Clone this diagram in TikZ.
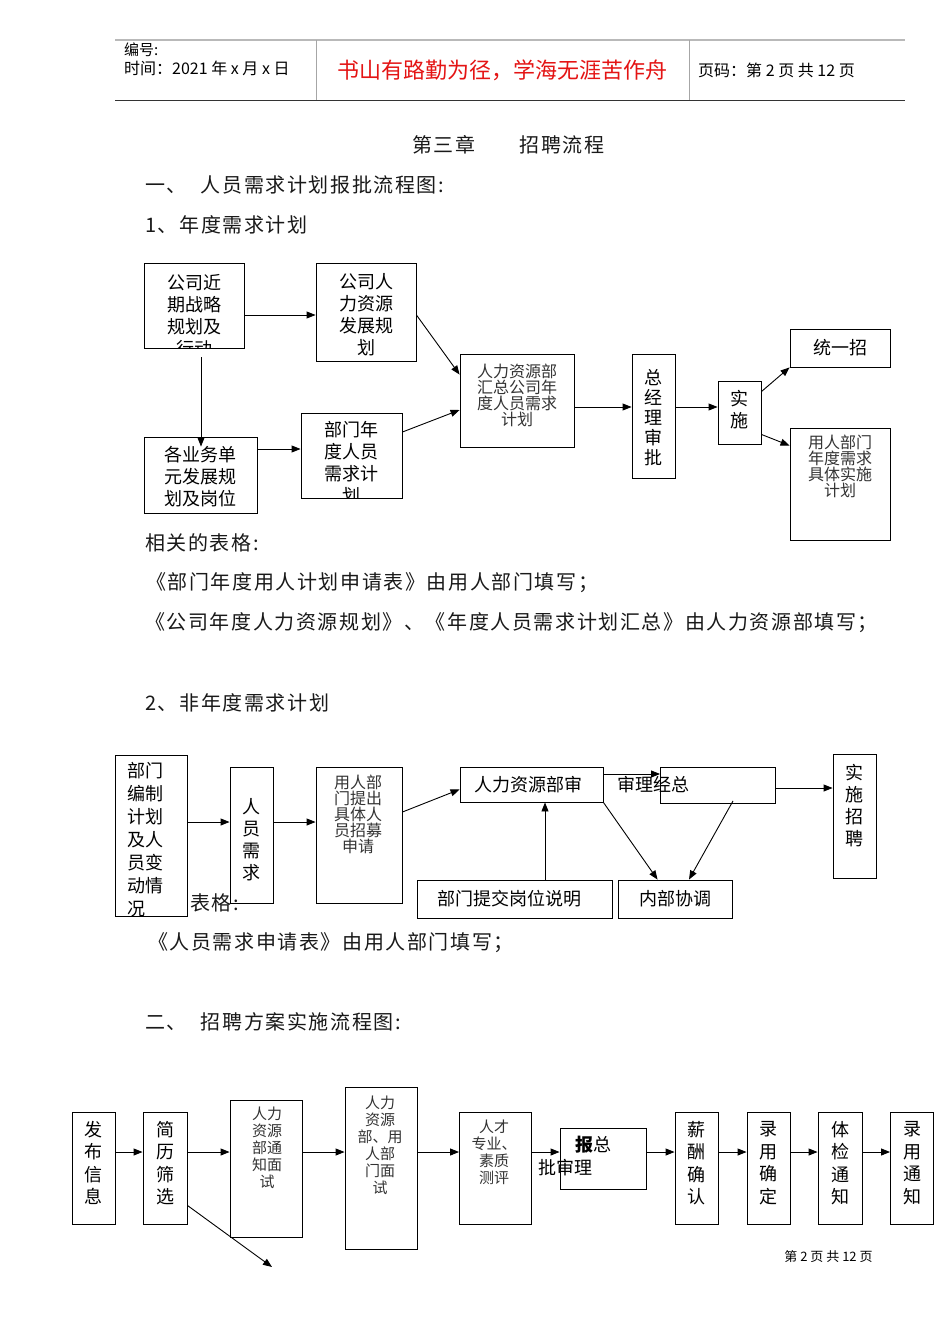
\documentclass[tikz,border=0pt]{standalone}
\usepackage{fontspec}
\setmainfont{Noto Sans CJK SC}
\newfontfamily\cjkbody[LetterSpace=8]{Noto Sans CJK SC}
\usetikzlibrary{arrows.meta,calc}
\definecolor{hdred}{RGB}{228,20,20}
\begin{document}
\begin{tikzpicture}[x=1pt,y=-1pt,
  box/.style={draw, line width=0.9pt, inner sep=0pt},
  btxt/.style={inner sep=0pt, align=center, font=\fontsize{18}{22}\selectfont},
  vtxt/.style={inner sep=0pt, align=center, font=\fontsize{18}{22.5}\selectfont},
  ltxt/.style={inner sep=0pt, align=center, text=black!80, font=\fontsize{16}{16}\selectfont},
  lstxt/.style={inner sep=0pt, align=center, text=black!80, font=\fontsize{15}{17}\selectfont},
  body/.style={inner sep=0pt, anchor=west, text=black!90, font=\cjkbody\fontsize{20}{22}\selectfont},
  arr/.style={line width=0.9pt, -{Triangle[length=9pt,width=7pt]}},
  ln/.style={line width=0.9pt}]
\useasboundingbox (0,0) rectangle (950,1344);
\fill[white] (0,0) rectangle (950,1344);

% ---------------- header
\draw[gray!55, line width=2pt] (115,40) -- (905,40);
\draw[black!80, line width=0.8pt] (115,100) -- (905,100);
\draw[gray!70, line width=1pt] (316,40) -- (316,100);
\draw[gray!70, line width=1pt] (689,40) -- (689,100);
\node[inner sep=0pt, anchor=west, font=\fontsize{15}{16}\selectfont] (hno) at (124,50) {编号:};
\node[inner sep=0pt, anchor=west, font=\fontsize{16}{16}\selectfont] (htime) at (124,68) {时间：2021 年 x 月 x 日};
\node[inner sep=0pt, text=hdred, font=\fontsize{22}{23}\selectfont] (hmotto) at (502.5,70) {书山有路勤为径，学海无涯苦作舟};
\node[inner sep=0pt, anchor=west, font=\fontsize{16}{16}\selectfont] (hpage) at (698,70) {页码：第 2 页 共 12 页};

% ---------------- body text
\node[body] (title) at (412,145) {第三章\hspace{44pt}招聘流程};
\node[body] (sec1) at (145,185) {一、\hspace{14pt}人员需求计划报批流程图:};
\node[body] (sub1) at (145,225) {1、年度需求计划};
\node[body] (rel) at (145,543) {相关的表格:};
\node[body] (f1) at (146,583) {《部门年度用人计划申请表》由用人部门填写；};
\node[body] (f2) at (145,623) {《公司年度人力资源规划》、《年度人员需求计划汇总》由人力资源部填写；};
\node[body] (sub2) at (145,703) {2、非年度需求计划};
\node[body] (f3) at (148,943) {《人员需求申请表》由用人部门填写；};
\node[body] (sec2) at (145,1022) {二、\hspace{14pt}招聘方案实施流程图:};

% ---------------- flow 1
\node[box, minimum width=100, minimum height=85] (A) at (194,305.5) {};
\node[box, minimum width=100, minimum height=98] (B) at (366,312) {};
\node[box, minimum width=113, minimum height=76] (C) at (200.5,475) {};
\node[box, minimum width=101, minimum height=85] (D) at (351.5,455.5) {};
\node[box, minimum width=114, minimum height=93] (E) at (517,400.5) {};
\node[box, minimum width=43, minimum height=124] (F) at (653.5,416) {};
\node[box, minimum width=43, minimum height=63] (G) at (739.5,412.5) {};
\node[box, minimum width=100, minimum height=38] (H) at (840,348) {};
\node[box, minimum width=100, minimum height=112] (I) at (840,484) {};

\begin{scope}
\clip (A.south west) rectangle (A.north east);
\node[btxt, anchor=north] (At) at (194,274) {公司近\\期战略\\规划及\\行动};
\end{scope}
\node[btxt, anchor=north] (Bt) at (366,273) {公司人\\力资源\\发展规\\划};
\node[btxt] (Ct) at (200.5,477) {各业务单\\元发展规\\划及岗位};
\begin{scope}
\clip (D.south west) rectangle (D.north east);
\node[btxt, anchor=north] (Dt) at (351.5,421) {部门年\\度人员\\需求计\\划};
\end{scope}
\node[ltxt, anchor=north] (Et) at (517,364) {人力资源部\\汇总公司年\\度人员需求\\计划};
\node[btxt, font=\fontsize{18}{20}\selectfont] (Ft) at (653.5,417.5) {总\\经\\理\\审\\批};
\node[btxt] (Gt) at (739.5,410) {实\\施};
\node[btxt] (Ht) at (840,348) {统一招};
\node[ltxt, anchor=north] (It) at (840,435) {用人部门\\年度需求\\具体实施\\计划};

\coordinate (r1a) at (0,315);
\coordinate (r1b) at (0,449);
\coordinate (r1c) at (0,407);
\draw[arr] (A.east |- r1a) -- (B.west |- r1a);
\draw[arr] ($(A.south)+(7,9)$) -- ($(C.north)+(0.5,10)$);
\draw[arr] (C.east |- r1b) -- (D.west |- r1b);
\draw[arr] ($(B.east)+(0,3)$) -- ($(E.north west)+(0,21)$);
\draw[arr] ($(D.east)+(0,-23.5)$) -- ($(E.west)+(0,9.5)$);
\draw[arr] (E.east |- r1c) -- (F.west |- r1c);
\draw[arr] (F.east |- r1c) -- (G.west |- r1c);
\draw[arr] ($(G.north east)+(0,11)$) -- (H.south west);
\draw[arr] ($(G.south east)+(0,-10)$) -- ($(I.north west)+(0,18)$);

% ---------------- flow 2
\node[box, minimum width=72, minimum height=161] (P) at (151,835.5) {};
\node[box, minimum width=43, minimum height=136] (Q) at (251.5,835) {};
\node[box, minimum width=86, minimum height=136] (R) at (359,835) {};
\node[box, minimum width=143, minimum height=35] (S) at (531.5,784.5) {};
\node[box, minimum width=115, minimum height=36] (T) at (718,785.5) {};
\node[box, minimum width=43, minimum height=124] (U) at (854.5,816.5) {};
\node[box, minimum width=195, minimum height=38] (V) at (514.5,899) {};
\node[box, minimum width=114, minimum height=38] (W) at (675,899) {};

\begin{scope}
\clip (P.south west) rectangle (P.north east);
\node[btxt, align=left, anchor=north west, font=\fontsize{18}{23}\selectfont] (Pt) at (127,762) {部门\\编制\\计划\\及人\\员变\\动情\\况};
\end{scope}
\node[btxt] (Qt) at (251.5,840) {人\\员\\需\\求};
\node[ltxt, anchor=north] (Rt) at (358,775) {用人部\\门提出\\具体人\\员招募\\申请};
\node[btxt] (St) at (528,785) {人力资源部审};
\node[btxt] (Tt) at (653.5,785) {审理经总};
\node[btxt] (Ut) at (854.5,805.5) {实\\施\\招\\聘};
\node[btxt] (Vt) at (509,899) {部门提交岗位说明};
\node[btxt] (Wt) at (675,899) {内部协调};
\node[body] (tab) at (190,903) {表格:};

\coordinate (r2a) at (0,822);
\coordinate (r2b) at (0,774);
\coordinate (r2c) at (0,788);
\draw[arr] (P.east |- r2a) -- (Q.west |- r2a);
\draw[arr] (Q.east |- r2a) -- (R.west |- r2a);
\draw[arr] ($(R.east)+(0,-23)$) -- ($(S.south west)+(0,-13)$);
\draw[arr] ($(V.north)+(30.5,0)$) -- ($(S.south)+(13.5,0)$);
\draw[arr] (S.east |- r2b) -- (T.west |- r2b);
\draw[arr] (S.south east) -- ($(W.north west)+(40,0)$);
\draw[arr] ($(T.south)+(15,-3)$) -- ($(W.north)+(14,0)$);
\draw[arr] (T.east |- r2c) -- (U.west |- r2c);

% ---------------- flow 3
\node[box, minimum width=43, minimum height=112] (K1) at (93.5,1168) {};
\node[box, minimum width=44, minimum height=112] (K2) at (165,1168) {};
\node[box, minimum width=72, minimum height=137] (K3) at (266,1168.5) {};
\node[box, minimum width=72, minimum height=162] (K4) at (381,1168.5) {};
\node[box, minimum width=72, minimum height=112] (K5) at (495.5,1168) {};
\node[box, minimum width=86, minimum height=61] (K6) at (603,1158.5) {};
\node[box, minimum width=43, minimum height=112] (K7) at (696.5,1168) {};
\node[box, minimum width=43, minimum height=112] (K8) at (768.5,1168) {};
\node[box, minimum width=44, minimum height=112] (K9) at (840,1168) {};
\node[box, minimum width=43, minimum height=112] (K10) at (912,1168) {};

\node[vtxt] (K1t) at (93.5,1163) {发\\布\\信\\息};
\node[vtxt] (K2t) at (165,1163) {简\\历\\筛\\选};
\node[lstxt, anchor=north] (K3t) at (267,1107) {人力\\资源\\部通\\知面\\试};
\node[lstxt, anchor=north] (K4t) at (380,1096) {人力\\资源\\部、用\\人部\\门面\\试};
\node[lstxt, anchor=north] (K5t) at (494,1120) {人才\\专业、\\素质\\测评};
\node[btxt] (K6a) at (593.5,1145) {{\bfseries 报}总};
\node[btxt] (K6b) at (565,1168) {批审理};
\node[vtxt] (K7t) at (696.5,1163) {薪\\酬\\确\\认};
\node[vtxt] (K8t) at (768.5,1163) {录\\用\\确\\定};
\node[vtxt] (K9t) at (840,1163) {体\\检\\通\\知};
\node[vtxt] (K10t) at (912,1163) {录\\用\\通\\知};

\coordinate (r3) at (0,1152);
\draw[arr] (K1.east |- r3) -- (K2.west |- r3);
\draw[arr] (K2.east |- r3) -- (K3.west |- r3);
\draw[arr] (K3.east |- r3) -- (K4.west |- r3);
\draw[arr] (K4.east |- r3) -- (K5.west |- r3);
\draw[arr] (K5.east |- r3) -- (K6.west |- r3);
\draw[arr] (K6.east |- r3) -- (K7.west |- r3);
\draw[arr] (K7.east |- r3) -- (K8.west |- r3);
\draw[arr] (K8.east |- r3) -- (K9.west |- r3);
\draw[arr] (K9.east |- r3) -- (K10.west |- r3);
\coordinate (rej) at (272,1267);
\draw[arr] ($(K2.south east)+(0,-19)$) -- (rej);

\node[inner sep=0pt, font=\fontsize{13}{14}\selectfont] (foot) at (828.5,1257) {第 2 页 共 12 页};
\end{tikzpicture}
\end{document}
